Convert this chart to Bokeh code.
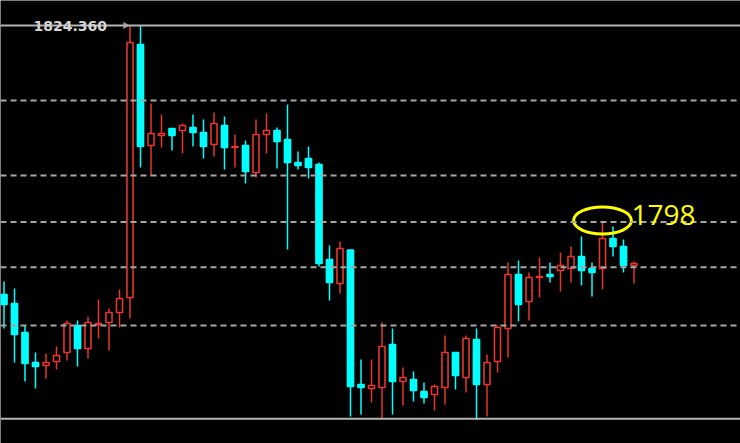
import math
from bokeh.plotting import figure
from bokeh.models import ColumnDataSource, Span, Label, Range1d
from bokeh.embed import file_html
from bokeh.resources import INLINE

# ---- data ----
opens = [1788.00, 1786.78, 1782.86, 1778.80, 1778.40, 1778.94, 1780.16, 1783.81, 1780.70, 1783.94,
         1784.21, 1785.56, 1787.59, 1821.79, 1808.14, 1809.49, 1810.44, 1810.17, 1810.57, 1809.90,
         1808.27, 1810.84, 1807.87, 1808.14, 1804.49, 1809.63, 1810.17, 1808.95, 1805.84, 1806.38,
         1805.57, 1792.73, 1789.48, 1794.00, 1775.83, 1775.29, 1775.42, 1781.24, 1776.24, 1776.51,
         1774.88, 1774.48, 1775.42, 1780.16, 1776.78, 1781.91, 1775.83, 1778.94, 1783.40, 1790.70,
         1787.05, 1790.29, 1790.70, 1791.24, 1791.51, 1793.13, 1791.51, 1791.51, 1795.57, 1794.49,
         1791.92]
closes = [1786.64, 1782.59, 1778.67, 1778.26, 1778.80, 1779.75, 1784.08, 1780.70, 1784.21, 1784.08,
          1785.56, 1787.46, 1822.06, 1808.00, 1809.76, 1809.76, 1809.49, 1810.84, 1809.90, 1808.00,
          1811.11, 1807.87, 1808.00, 1804.62, 1809.63, 1810.17, 1808.68, 1805.84, 1805.43, 1805.16,
          1792.19, 1789.62, 1794.21, 1775.56, 1775.42, 1775.70, 1780.97, 1776.24, 1776.78, 1775.02,
          1774.07, 1775.56, 1780.16, 1777.05, 1782.05, 1775.83, 1778.80, 1783.54, 1790.70, 1786.64,
          1790.29, 1790.43, 1790.43, 1791.92, 1793.13, 1791.24, 1790.97, 1795.57, 1794.49, 1791.92,
          1792.19]
highs = [1789.75, 1788.81, 1783.81, 1780.16, 1780.02, 1780.97, 1784.48, 1784.48, 1785.02, 1787.32,
         1786.10, 1788.67, 1824.36, 1824.36, 1813.82, 1812.33, 1810.44, 1811.11, 1812.33, 1811.65,
         1812.60, 1812.06, 1809.63, 1808.81, 1811.65, 1812.46, 1810.57, 1813.68, 1807.33, 1808.00,
         1805.84, 1794.62, 1795.16, 1794.08, 1779.21, 1779.21, 1784.21, 1783.40, 1778.13, 1777.59,
         1776.10, 1775.83, 1782.45, 1780.16, 1782.45, 1783.40, 1779.89, 1783.81, 1792.32, 1792.59,
         1790.97, 1793.00, 1792.32, 1793.67, 1794.49, 1795.84, 1792.32, 1797.73, 1797.19, 1795.43,
         1792.46]
lows = [1783.40, 1778.80, 1776.24, 1775.29, 1776.64, 1777.86, 1779.07, 1778.26, 1779.35, 1782.05,
        1780.43, 1783.54, 1784.75, 1805.16, 1804.08, 1807.87, 1807.46, 1807.06, 1808.00, 1806.38,
        1806.65, 1804.89, 1805.16, 1803.00, 1803.81, 1807.06, 1805.03, 1794.08, 1804.89, 1803.68,
        1791.78, 1787.19, 1788.13, 1771.50, 1771.78, 1773.40, 1771.23, 1771.78, 1772.99, 1773.53,
        1773.26, 1772.32, 1773.13, 1775.15, 1774.75, 1771.10, 1771.50, 1777.45, 1779.48, 1784.35,
        1784.48, 1787.59, 1789.62, 1788.40, 1789.62, 1789.21, 1787.73, 1788.67, 1793.13, 1790.97,
        1789.48]
idx = list(range(len(opens)))

grid_levels = [1814.22, 1804.08, 1797.80, 1791.69, 1783.81]
frame_levels = [1824.36, 1771.19]
top_price_label = "1824.360"
mark_index = 57
mark_price = 1798
mark_text = "1798"

UP = "#e8352d"
DOWN = "#00ffff"

up = dict(x=[], top=[], bottom=[], high=[], low=[])
dn = dict(x=[], top=[], bottom=[], high=[], low=[])
for i, o, h, l, c in zip(idx, opens, highs, lows, closes):
    d = up if c >= o else dn
    d["x"].append(i)
    d["top"].append(max(o, c))
    d["bottom"].append(min(o, c))
    d["high"].append(h)
    d["low"].append(l)

p = figure(width=740, height=443,
           x_range=Range1d(-0.3333, 70.143), y_range=Range1d(1767.855, 1827.74),
           output_backend="svg", toolbar_location=None, min_border=0,
           x_axis_location=None, y_axis_location=None,
           background_fill_color="black", border_fill_color="black",
           outline_line_color=None)
p.grid.visible = False

for lv in grid_levels:
    p.add_layout(Span(location=lv, dimension="width", line_color="#a6a6a6",
                      line_dash="6 4", line_width=2))
for lv in frame_levels:
    p.add_layout(Span(location=lv, dimension="width", line_color="#b4b4b4", line_width=2))

su = ColumnDataSource(up)
sd = ColumnDataSource(dn)
p.segment(x0="x", y0="high", x1="x", y1="low", source=su, line_color=UP, line_width=1.5)
p.segment(x0="x", y0="high", x1="x", y1="low", source=sd, line_color=DOWN, line_width=1.5)
p.vbar(x="x", top="top", bottom="bottom", width=0.58, source=su,
       fill_color="black", line_color=UP, line_width=1.6)
p.vbar(x="x", top="top", bottom="bottom", width=0.58, source=sd,
       fill_color=DOWN, line_color=DOWN, line_width=1.6)

p.add_layout(Label(x=2.81, y=frame_levels[0], text=top_price_label,
                   text_font="DejaVu Sans", text_font_style="bold", text_font_size="14px",
                   text_color="#d4d4d4", text_baseline="middle", text_align="left"))
# small price-pointer marker next to the label
p.scatter(x=[11.57], y=[frame_levels[0]], marker="triangle", angle=-math.pi / 2,
          size=6, fill_color="#8a8a8a", line_color="#8a8a8a")

p.ellipse(x=[mark_index], y=[mark_price], width=5.5, height=3.65,
          fill_color=None, line_color="#ffff00", line_width=3)
p.add_layout(Label(x=59.76, y=1798.81, text=mark_text, text_font="Open Sans",
                   text_font_size="28px", text_color="#ffff00",
                   text_baseline="alphabetic", text_align="left"))

html = file_html(p, INLINE)
html = html.replace("<body>", '<body style="background-color:#000000;">', 1)
open("out.html", "w").write(html)
